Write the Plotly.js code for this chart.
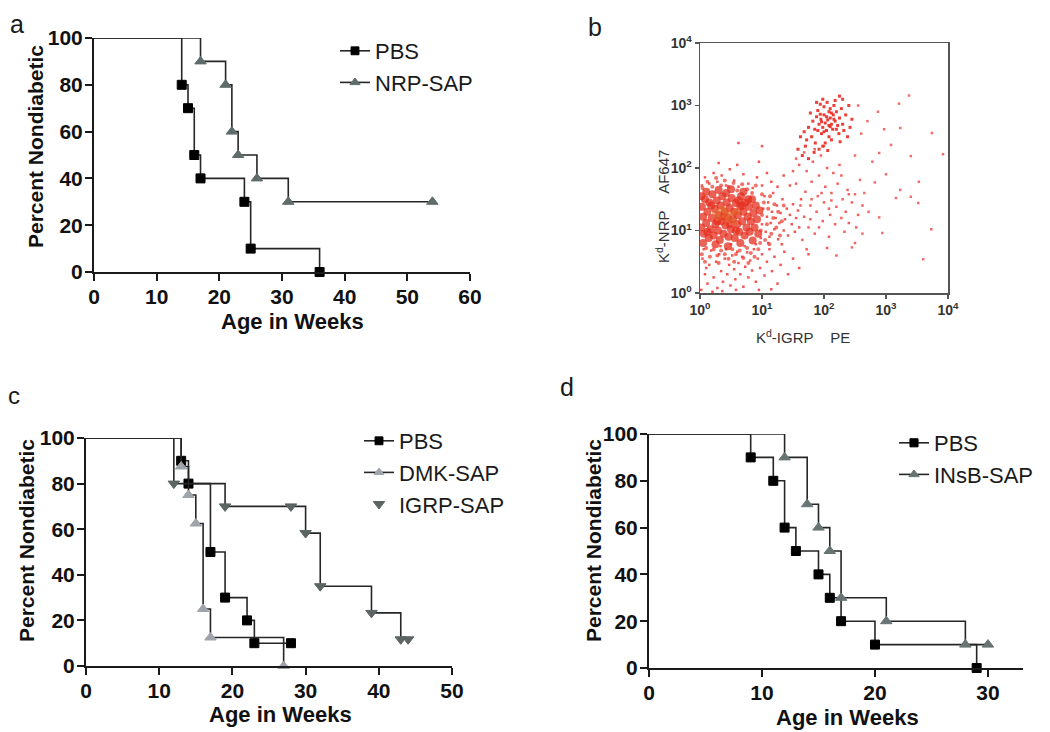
<!DOCTYPE html>
<html>
<head>
<meta charset="utf-8">
<script src="https://cdn.plot.ly/plotly-3.0.1.min.js"></script>
<style>
  html, body { margin: 0; padding: 0; background: #fff; }
  #fig { width: 1050px; height: 732px; }
</style>
</head>
<body>
<div id="fig"></div>
<script>
// ---- panel a : NRP-SAP vs PBS ----
const aPbsWeeks = [0, 14, 15, 16, 17, 24, 25, 36];
const aPbsPct   = [100, 80, 70, 50, 40, 30, 10, 0];
const aNrpWeeks = [0, 17, 21, 22, 23, 26, 31, 54];
const aNrpPct   = [100, 90, 80, 60, 50, 40, 30, 30];

// ---- panel c : DMK-SAP / IGRP-SAP vs PBS ----
const cPbsWeeks  = [0, 13, 14, 17, 19, 22, 23, 28];
const cPbsPct    = [100, 90, 80, 50, 30, 20, 10, 10];
const cDmkWeeks  = [0, 13, 14, 15, 16, 17, 27];
const cDmkPct    = [100, 87.5, 75, 62.5, 25, 12.5, 0];
const cIgrpWeeks = [0, 12, 19, 28, 30, 32, 39, 43, 44];
const cIgrpPct   = [100, 80, 70, 70, 58.3, 35, 23.3, 11.7, 11.7];

// ---- panel d : INsB-SAP vs PBS ----
const dPbsWeeks  = [0, 9, 11, 12, 13, 15, 16, 17, 20, 29];
const dPbsPct    = [100, 90, 80, 60, 50, 40, 30, 20, 10, 0];
const dInsbWeeks = [0, 12, 14, 15, 16, 17, 21, 28, 30];
const dInsbPct   = [100, 90, 70, 60, 50, 30, 20, 10, 10];

// tick labels
const aWeekTicks = [0, 10, 20, 30, 40, 50, 60];
const cWeekTicks = [0, 10, 20, 30, 40, 50];
const dWeekTicks = [0, 10, 20, 30];
const pctTicks   = [0, 20, 40, 60, 80, 100];
const decadeTicks = [1, 10, 100, 1000, 10000];
const decadeText  = ['10<sup>0</sup>', '10<sup>1</sup>', '10<sup>2</sup>', '10<sup>3</sup>', '10<sup>4</sup>'];

// ---- panel b : tetramer staining, values in decades (log10) ----
const bCoreX = [0.02,0.05,0.03,0.06,0.08,0.10,0.12,0.14,0.15,0.17, 0.19,0.20,0.22,0.24,0.25,0.27,0.29,0.30,0.32,0.33,
  0.35,0.36,0.38,0.40,0.41,0.43,0.45,0.46,0.48,0.50, 0.51,0.53,0.55,0.56,0.58,0.60,0.61,0.63,0.65,0.66,
  0.68,0.70,0.72,0.73,0.75,0.77,0.79,0.80,0.82,0.84, 0.86,0.88,0.90,0.92,0.94,0.96,0.10,0.30,0.50,0.70,
  0.05,0.25,0.45,0.65,0.85,0.18,0.38,0.58,0.78,0.12, 0.42,0.62,0.02,0.28,0.48,0.68];
const bCoreY = [1.05,1.22,1.38,0.95,1.50,1.12,1.30,0.88,1.45,1.02, 1.20,1.58,0.92,1.35,1.10,1.48,1.00,1.25,0.85,1.40,
  1.15,1.55,0.95,1.30,1.08,1.45,1.20,0.90,1.36,1.02, 1.52,1.18,1.30,0.88,1.44,1.10,1.25,0.98,1.38,1.55,
  1.15,1.30,0.92,1.45,1.05,1.22,1.38,0.98,1.15,1.50, 1.28,1.05,1.40,1.18,0.95,1.32,1.62,1.65,1.66,1.62,
  0.80,0.78,0.75,0.80,0.84,1.40,1.22,1.00,1.50,0.98, 1.60,1.48,1.55,1.15,1.10,1.40];
const bHotX = [0.30,0.40,0.45,0.52,0.35,0.55,0.42,0.25,0.60];
const bHotY = [1.22,1.32,1.18,1.28,1.35,1.15,1.25,1.28,1.30];
const bNearX = [0.03,0.10,0.16,0.22,0.28,0.34,0.40,0.46,0.52,0.58, 0.64,0.70,0.76,0.82,0.88,0.94,0.08,0.30,0.55,0.78,
  0.04,0.12,0.20,0.26,0.34,0.40,0.46,0.54,0.60,0.68, 0.76,0.84,0.90,
  0.98,1.00,1.03,1.05,1.08,1.10,1.13,1.15,1.18,1.20, 1.23,1.26,1.29,1.32,1.35,1.00,0.97,1.12];
const bNearY = [0.62,0.72,0.58,0.70,0.60,0.68,0.62,0.55,0.70,0.62, 0.68,0.56,0.72,0.64,0.58,0.70,0.50,0.48,0.50,0.48,
  1.68,1.78,1.70,1.84,1.72,1.80,1.70,1.76,1.64,1.74, 1.66,1.60,1.72,
  1.00,1.25,1.45,0.85,1.10,1.35,1.55,0.95,1.20,1.42, 1.05,1.30,0.92,1.15,1.40,1.58,0.80,0.78];
const bHaloX = [0.02,0.08,0.04,0.12,0.15,0.18,0.22,0.26,0.28,0.31, 0.34,0.37,0.40,0.42,0.44,0.47,0.49,0.52,0.55,0.57,
  0.60,0.62,0.65,0.68,0.70,0.73,0.76,0.78,0.81,0.84, 0.87,0.90,0.93,0.97,1.00,1.04,1.08,1.12,1.16,1.20,
  1.25,1.30,1.36,1.42,0.06,0.20,0.36,0.58,0.95,1.15, 0.10,0.33,0.50,0.72,0.90,1.10,1.32,1.50,1.60,1.75,
  0.98,1.00,1.02,1.04,1.06,1.08,1.10,1.12,1.14,1.16, 1.18,1.20,1.22,1.24,1.26,1.28,1.30,1.33,1.35,1.37,
  1.40,1.42,1.45,1.48,1.50,1.53,1.55,1.58,1.60,1.63, 0.03,0.08,0.15,0.22,0.28,0.35,0.42,0.48,0.55,0.62,
  0.70,0.78,0.85,0.92,1.00,1.08,1.15,1.25,1.35,1.45, 0.60,0.30,0.95,0.62,1.00];
const bHaloY = [0.05,0.30,0.55,0.15,0.45,0.68,0.25,0.50,0.08,0.62, 0.35,0.18,0.55,0.70,0.30,0.45,0.12,0.60,0.38,0.22,
  0.66,0.48,0.30,0.58,0.10,0.42,0.65,0.25,0.52,0.36, 0.70,0.18,0.55,0.40,0.62,0.28,0.50,0.70,0.35,0.58,
  0.15,0.45,0.66,0.30,0.70,0.02,0.03,0.05,0.05,0.06, 0.40,0.75,0.78,0.75,0.78,0.80,0.78,0.55,0.40,0.62,
  0.88,1.10,1.35,1.55,0.98,1.22,1.45,0.90,1.12,1.30, 1.60,1.02,1.20,1.40,0.86,1.12,1.28,1.50,1.00,1.18,
  1.35,0.92,1.25,1.10,1.42,0.98,1.20,1.32,1.05,1.50, 1.72,1.85,1.75,1.92,1.78,1.88,1.72,1.98,1.80,1.70,
  1.90,1.75,1.68,1.85,1.72,1.92,1.78,1.70,1.88,1.72, 2.05,2.08,2.10,2.40,2.35];
const bBridgeX = [1.65,1.68,1.70,1.72,1.75,1.78,1.80,1.82,1.85,1.88, 1.90,1.92,1.95,1.98,2.00,2.02,2.05,2.08,2.10,2.12,
  2.15,2.18,2.20,2.22,2.25,2.28,2.30,2.33,2.35,2.38, 2.40,2.45,2.50,2.55,2.62,1.55,1.60,1.50,1.62,1.92,
  2.05,1.72,2.20,1.85,2.00,1.68,1.55,2.12,1.78,2.28, 2.40,2.52,1.96,2.08,1.80];
const bBridgeY = [0.85,1.22,1.62,1.95,1.05,1.40,1.78,2.10,0.95,1.30, 1.55,1.88,2.20,1.15,1.45,1.70,2.00,0.90,1.25,1.60,
  1.92,1.10,1.38,1.75,2.05,1.20,1.50,0.98,1.30,1.65, 1.12,1.45,0.80,1.25,1.40,1.75,2.05,1.95,1.40,1.05,
  0.72,0.70,0.60,2.30,2.35,2.25,2.15,1.48,1.18,1.88, 1.58,1.05,1.60,1.35,1.50];
const bUpperX = [2.06,2.02,2.10,2.00,2.12,2.08,1.98,2.15,2.04,1.95, 2.18,2.10,1.92,2.20,2.00,2.14,1.88,2.22,1.96,2.08,
  2.25,1.85,2.05,2.16,1.90,2.28,1.82,2.24,1.94,2.12, 1.80,2.30,1.86,2.02,1.78,2.32,1.75,2.18,1.98,1.72,
  2.35,1.92,1.68,2.06,1.70,2.26,1.62,1.84,2.40,1.98, 2.10,2.04,1.96,2.16,2.08,2.00,2.12,1.94,2.20,1.90,
  1.58,1.65,1.75,2.45,2.38,2.30,2.25,1.88,2.42];
const bUpperY = [2.77,2.72,2.80,2.85,2.70,2.90,2.65,2.85,2.60,2.78, 2.75,2.95,2.70,2.90,2.98,2.62,2.82,2.68,2.55,2.50,
  2.80,2.62,3.05,3.00,2.92,2.95,2.75,2.55,3.02,2.45, 2.50,2.70,2.40,2.40,2.88,2.60,2.65,3.08,2.35,2.45,
  2.85,2.30,2.58,2.28,2.35,2.42,2.50,2.25,3.00,3.10, 2.66,2.82,2.74,2.78,2.68,2.58,2.88,2.86,2.62,2.60,
  2.30,2.20,2.15,2.78,2.50,3.10,3.15,3.05,2.65];
const bOutlierX = [3.37,3.21,2.87,3.23,2.97,3.74,3.08,3.40,3.92,2.89, 2.58,2.82,3.53,3.23,3.40,3.16,3.52,2.89,3.73,2.94,
  3.60,2.45,2.60,2.70,2.55,2.65,2.72,2.78,2.50,3.00, 2.50,2.62];
const bOutlierY = [3.16,3.03,2.90,2.64,2.62,2.56,2.37,2.19,2.22,2.24, 1.81,1.77,1.78,1.65,1.54,1.52,1.44,1.21,1.02,0.96,
  0.54,0.73,2.55,2.75,3.00,1.60,1.30,2.10,2.20,1.90, 1.58,0.95];

const BOLD = 'Arial, "Liberation Sans", sans-serif';
const NARROW = '"Liberation Sans Narrow", "Arial Narrow", Arial, sans-serif';
const INK = '#1a1a1a';
const W = 1050, H = 732;
const px = v => v / W;
const py = v => 1 - v / H;
const bold = v => '<b>' + v + '</b>';

function km(x, y, name, symbol, color, size, xa, ya, legend) {
  return {
    x: x, y: y, name: name, type: 'scatter', mode: 'lines+markers',
    xaxis: xa, yaxis: ya, legend: legend, cliponaxis: false,
    line: { shape: 'hv', color: '#262626', width: 1.6 },
    marker: {
      symbol: symbol, color: color, opacity: 1,
      size: x.map((_, i) => i === 0 ? 0 : size), line: { width: 1, color: color }
    }
  };
}

function dots(lx, ly, size, color, opacity, symbol) {
  return {
    x: lx.map(v => Math.pow(10, v)), y: ly.map(v => Math.pow(10, v)),
    type: 'scatter', mode: 'markers', xaxis: 'x2', yaxis: 'y2', showlegend: false, hoverinfo: 'skip',
    marker: { size: size, color: color, opacity: opacity, symbol: symbol, line: { width: 0 } }
  };
}

const PBS_COL = '#000000';
const traces = [
  km(aPbsWeeks, aPbsPct, 'PBS', 'square', PBS_COL, 9, 'x', 'y', 'legend'),
  km(aNrpWeeks, aNrpPct, 'NRP-SAP', 'triangle-up', '#5f6c6c', 10, 'x', 'y', 'legend'),

  dots(bHaloX, bHaloY, 2.5, '#f03a36', 0.85, 'square'),
  dots(bBridgeX, bBridgeY, 2.5, '#f03a36', 0.8, 'square'),
  dots(bUpperX, bUpperY, 3, '#e92a24', 0.9, 'square'),
  dots(bOutlierX, bOutlierY, 2.5, '#f04a44', 0.8, 'square'),
  dots(bNearX, bNearY, 4, '#e8382a', 0.7, 'circle'),
  dots(bCoreX, bCoreY, 8, '#e42e1e', 0.75, 'circle'),
  dots(bHotX, bHotY, 7, '#e2662a', 0.55, 'circle'),

  km(cPbsWeeks, cPbsPct, 'PBS', 'square', PBS_COL, 9, 'x3', 'y3', 'legend2'),
  km(cDmkWeeks, cDmkPct, 'DMK-SAP', 'triangle-up', '#9ea4aa', 10, 'x3', 'y3', 'legend2'),
  {
    x: cIgrpWeeks, y: cIgrpPct, type: 'scatter', mode: 'lines', xaxis: 'x3', yaxis: 'y3',
    showlegend: false, line: { shape: 'hv', color: '#262626', width: 1.6 }
  },
  {
    x: cIgrpWeeks.slice(1), y: cIgrpPct.slice(1), name: 'IGRP-SAP', type: 'scatter', mode: 'markers',
    xaxis: 'x3', yaxis: 'y3', legend: 'legend2', cliponaxis: false,
    marker: { symbol: 'triangle-down', color: '#5c6464', size: 10, line: { width: 1, color: '#5c6464' } }
  },

  km(dPbsWeeks, dPbsPct, 'PBS', 'square', PBS_COL, 9, 'x4', 'y4', 'legend3'),
  km(dInsbWeeks, dInsbPct, 'INsB-SAP', 'triangle-up', '#687474', 10, 'x4', 'y4', 'legend3')
];

function kmAx(domain, range, anchor, ticks) {
  return {
    domain: domain, range: range, anchor: anchor,
    tickmode: 'array', tickvals: ticks, ticktext: ticks.map(bold),
    showline: true, linewidth: 2, linecolor: INK, ticks: 'outside', ticklen: 7, tickwidth: 2, tickcolor: INK,
    ticklabelstandoff: -2,
    showgrid: false, zeroline: false, fixedrange: true,
    tickfont: { family: BOLD, size: 21, color: '#111', weight: 'bold' }
  };
}
function logAx(domain, anchor) {
  return {
    domain: domain, anchor: anchor, type: 'log', range: [0, 4],
    tickmode: 'array', tickvals: decadeTicks, ticktext: decadeText.map(bold),
    showline: true, mirror: true, linewidth: 1.5, linecolor: '#555', ticks: 'outside', ticklen: 4,
    tickwidth: 1.5, tickcolor: '#555', showgrid: false, zeroline: false, fixedrange: true,
    tickfont: { family: NARROW, size: 14, color: '#333' }
  };
}

function ann(text, x, y, size, opts) {
  return Object.assign({
    text: text, x: px(x), y: py(y), xref: 'paper', yref: 'paper', showarrow: false,
    xanchor: 'center', yanchor: 'middle',
    font: { family: BOLD, size: size, color: '#111', weight: 'bold' }
  }, opts || {});
}
const sp = '\u00a0\u00a0\u00a0\u00a0';
const plain = s => ({ family: BOLD, size: s, color: INK });
const narrow = { family: NARROW, size: 15, color: '#333' };

const legendBase = {
  bgcolor: 'rgba(0,0,0,0)', xanchor: 'left', yanchor: 'top', tracegroupgap: 0,
  font: { family: BOLD, size: 22, color: INK }
};

const layout = {
  width: W, height: H, margin: { l: 0, r: 0, t: 0, b: 0 },
  paper_bgcolor: '#fff', plot_bgcolor: 'rgba(0,0,0,0)', showlegend: true,
  xaxis: kmAx([px(94), px(470)], [0, 60], 'y', aWeekTicks),
  yaxis: kmAx([py(272), py(38)], [0, 100], 'x', pctTicks),
  xaxis2: logAx([px(700), px(948)], 'y2'),
  yaxis2: logAx([py(293), py(43)], 'x2'),
  xaxis3: kmAx([px(86), px(452)], [0, 50], 'y3', cWeekTicks),
  yaxis3: kmAx([py(666), py(438)], [0, 100], 'x3', pctTicks),
  xaxis4: kmAx([px(649), px(1023)], [0, 33.1], 'y4', dWeekTicks),
  yaxis4: kmAx([py(668), py(434)], [0, 100], 'x4', pctTicks),
  legend: Object.assign({}, legendBase, { x: px(335), y: py(30) }),
  legend2: Object.assign({}, legendBase, { x: px(359), y: py(420) }),
  legend3: Object.assign({}, legendBase, { x: px(894), y: py(422) }),
  annotations: [
    ann('a', 8, 24, 25, { xanchor: 'left', font: plain(25) }),
    ann('b', 586, 27, 25, { xanchor: 'left', font: plain(25) }),
    ann('c', 6, 395, 24, { xanchor: 'left', font: plain(24) }),
    ann('d', 558, 387, 25, { xanchor: 'left', font: plain(25) }),

    ann('Age in Weeks', 292, 322, 22),
    ann('Percent Nondiabetic', 36, 147, 21, { textangle: -90 }),
    ann('Age in Weeks', 280, 714, 22),
    ann('Percent Nondiabetic', 26, 541, 21, { textangle: -90 }),
    ann('Age in Weeks', 847, 717, 22),
    ann('Percent Nondiabetic', 593, 541, 21, { textangle: -90 }),

    ann('K<sup>d</sup>-IGRP' + sp + 'PE', 803, 336, 15, { font: narrow }),
    ann('K<sup>d</sup>-NRP' + sp + 'AF647', 662, 207, 15, { textangle: -90, font: narrow })
  ]
};

Plotly.newPlot('fig', traces, layout, { staticPlot: true, displayModeBar: false });
</script>
</body>
</html>
